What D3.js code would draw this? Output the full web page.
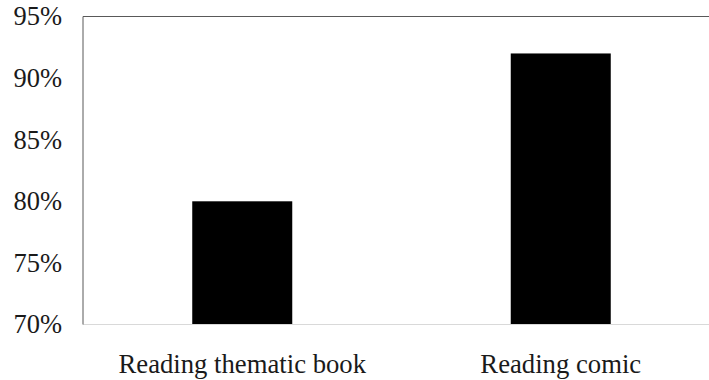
<!DOCTYPE html>
<html>
<head>
<meta charset="utf-8">
<script src="https://cdn.jsdelivr.net/npm/d3@7"></script>
<style>
  body { margin: 0; background: #fff; }
  text { font-family: "Liberation Serif", "Times New Roman", serif; fill: #1a1a1a; }
</style>
</head>
<body>
<svg id="chart" width="709" height="380"></svg>
<script>
const categories = ["Reading thematic book", "Reading comic"];
const values = [0.80, 0.92];
const yTicks = [0.70, 0.75, 0.80, 0.85, 0.90, 0.95];

const svg = d3.select("#chart");
const margin = { left: 83, top: 16.5, bottom: 324.5, right: 720 };

const x = d3.scaleBand()
    .domain(categories)
    .range([margin.left, margin.right])
    .paddingInner(0.686)
    .paddingOuter(0.343);

const y = d3.scaleLinear()
    .domain([0.70, 0.95])
    .range([margin.bottom, margin.top]);

// bars
svg.selectAll(".bar")
    .data(categories)
    .enter()
    .append("rect")
    .attr("class", "bar")
    .attr("x", d => x(d))
    .attr("y", (d, i) => y(values[i]))
    .attr("width", x.bandwidth())
    .attr("height", (d, i) => y(0.70) - y(values[i]))
    .attr("fill", "#000");

// frame lines
svg.append("line")
    .attr("x1", margin.left).attr("x2", 709)
    .attr("y1", y(0.70)).attr("y2", y(0.70))
    .attr("stroke", "#d9d9d9").attr("stroke-width", 1);
svg.append("line")
    .attr("x1", margin.left).attr("x2", 709)
    .attr("y1", y(0.95)).attr("y2", y(0.95))
    .attr("stroke", "#595959").attr("stroke-width", 1);
svg.append("line")
    .attr("x1", margin.left).attr("x2", margin.left)
    .attr("y1", y(0.95)).attr("y2", y(0.70))
    .attr("stroke", "#595959").attr("stroke-width", 1);

// y axis labels
const yAxis = svg.append("g")
    .attr("transform", `translate(${margin.left},0)`)
    .call(d3.axisLeft(y).tickValues(yTicks).tickFormat(d3.format(".0%")).tickSize(0).tickPadding(21));
yAxis.select(".domain").remove();
yAxis.selectAll("text")
    .attr("font-size", 26.5)
    .attr("fill", "#1a1a1a");

// x axis labels
const xAxis = svg.append("g")
    .attr("transform", `translate(0,${margin.bottom})`)
    .call(d3.axisBottom(x).tickSize(0).tickPadding(30));
xAxis.select(".domain").remove();
xAxis.selectAll("text")
    .attr("font-size", 26.7)
    .attr("fill", "#1a1a1a");
</script>
</body>
</html>
